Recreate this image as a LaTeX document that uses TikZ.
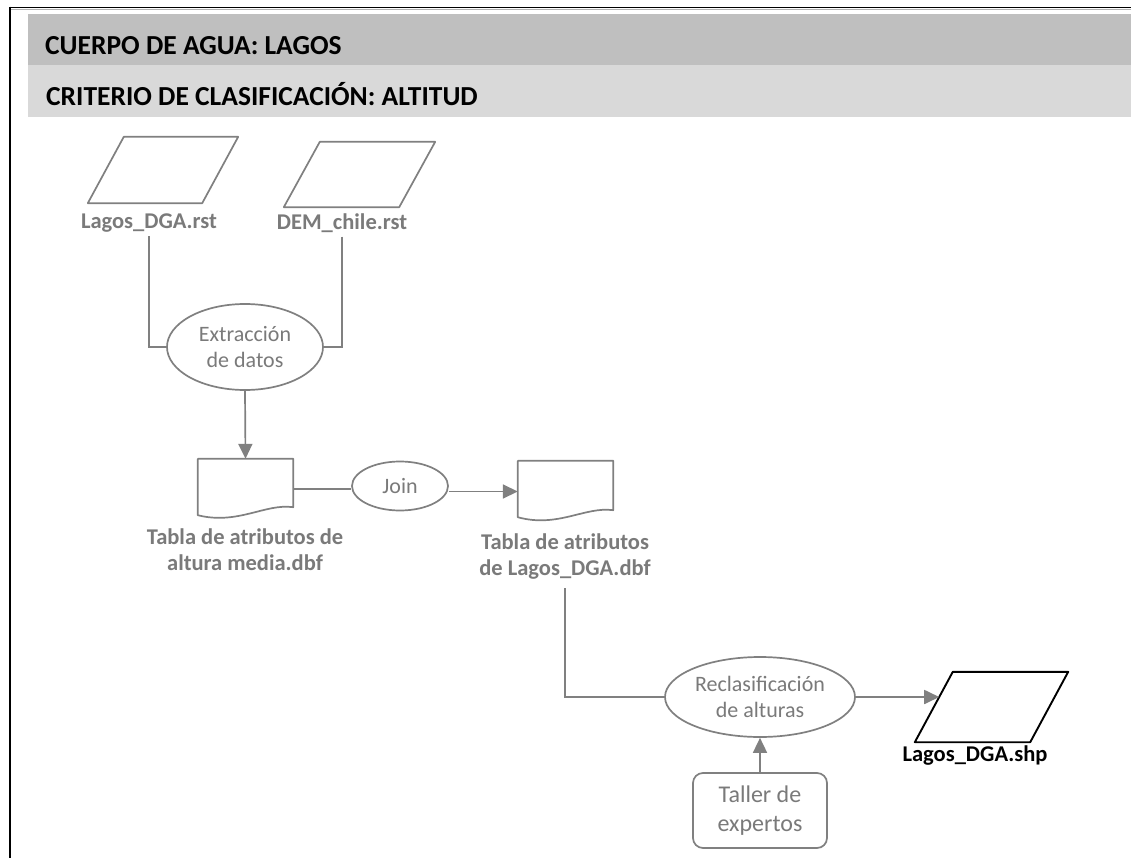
\documentclass[tikz,border=0pt]{standalone}
\usepackage{fontspec}
\setmainfont{Carlito}
\usetikzlibrary{shapes.geometric,arrows.meta,calc}
\definecolor{lg}{HTML}{808080}
\definecolor{bandA}{HTML}{BFBFBF}
\definecolor{bandB}{HTML}{D9D9D9}
\definecolor{txtg}{HTML}{7A7A7A}
\begin{document}
\begin{tikzpicture}[x=1pt,y=-1pt,
  conn/.style={draw=lg, line width=1.7pt},
  arr/.style={conn, -{Triangle[length=15pt,width=14pt]}},
  shapebox/.style={inner sep=0pt, draw=none},
  lbl/.style={font=\bfseries\fontsize{22.5}{26}\selectfont, text=txtg, align=center, inner sep=0pt},
  proc/.style={ellipse, draw=lg, line width=1.7pt, font=\fontsize{22}{25.5}\selectfont, text=txtg, align=center, inner sep=0pt},
  hdr/.style={font=\bfseries\fontsize{27.5}{33}\selectfont, anchor=base west, inner sep=0pt},
  shp/.style={draw=lg, line width=1.7pt, line join=round}
]
\useasboundingbox (0,0) rectangle (1131,858);
\fill[white] (0,0) rectangle (1131,858);

% frame
\draw[black, line width=1.6pt] (9.5,7.5) -- (1131,7.5);
\draw[lg!60, line width=0.8pt] (10,9.6) -- (1131,9.6);
\draw[black, line width=2pt] (9.5,6.7) -- (9.5,858);

% header bands
\fill[bandA] (28,14) rectangle (1131,65);
\fill[bandB] (28,65) rectangle (1131,117);
\node[hdr] (h1) at (45,55) {CUERPO DE AGUA: LAGOS};
\node[hdr] (h2) at (46,106) {CRITERIO DE CLASIFICACIÓN: ALTITUD};

% input parallelograms
\node[shapebox, minimum width=150pt, minimum height=66pt] (p1) at (163,170) {};
\draw[shp] (p1.south west) -- ([xshift=-36pt]p1.south east) -- (p1.north east) -- ([xshift=36pt]p1.north west) -- cycle;
\node[shapebox, minimum width=151pt, minimum height=65pt] (p2) at (359.5,174.5) {};
\draw[shp] (p2.south west) -- ([xshift=-36pt]p2.south east) -- (p2.north east) -- ([xshift=36pt]p2.north west) -- cycle;
\node[lbl] (l1) at (149,223) {Lagos\_DGA.rst};
\node[lbl] (l2) at (342,223) {DEM\_chile.rst};

% extraction
\node[proc, minimum width=156pt, minimum height=86pt] (e1) at (245,347) {Extracción\\de datos};
\draw[conn] ([yshift=-4pt]l1.south) |- (e1.west);
\draw[conn] ([yshift=-4pt]l2.south) |- (e1.east);

% document 1
\node[shapebox, minimum width=95pt, minimum height=60pt] (d1) at (245.5,489) {};
\draw[shp] (d1.north west) -- (d1.north east) -- ([yshift=12pt]d1.south east)
  .. controls ([xshift=-28pt,yshift=16pt]d1.south east) and ([xshift=40pt,yshift=-6pt]d1.south west) .. ([yshift=4pt]d1.south west) -- cycle;
\node[lbl] (l3) at (245,549.5) {Tabla de atributos de\\altura media.dbf};
\draw[arr] (e1.south) -- (d1.north);

% join
\node[proc, minimum width=96pt, minimum height=49pt] (j) at (400,486) {Join};
\draw[conn] (d1.east) -- (d1.east -| j.west);

% document 2
\node[shapebox, minimum width=95pt, minimum height=61pt] (d2) at (565.5,491.5) {};
\draw[shp] (d2.north west) -- (d2.north east) -- ([yshift=12pt]d2.south east)
  .. controls ([xshift=-28pt,yshift=16pt]d2.south east) and ([xshift=40pt,yshift=-6pt]d2.south west) .. ([yshift=5pt]d2.south west) -- cycle;
\node[lbl] (l4) at (565,557) {Tabla de atributos\\de Lagos\_DGA.dbf};
\draw[arr] (d2.west -| j.east) -- (d2.west);

% reclassification
\node[proc, minimum width=190pt, minimum height=80pt] (e2) at (760,697) {Reclasificación\\de alturas};
\draw[conn] ([yshift=-8pt]l4.south) |- (e2.west);

% experts
\node[draw=lg, line width=1.7pt, rounded corners=10pt, minimum width=134pt, minimum height=75pt,
      font=\fontsize{24}{29}\selectfont, text=txtg, align=center, inner sep=0pt] (t) at (760,810.5) {Taller de\\expertos};
\draw[arr] (t.north) -- (e2.south);

% output
\node[shapebox, minimum width=153pt, minimum height=70pt] (p3) at (991.5,707) {};
\draw[black, line width=1.9pt, line join=round] (p3.south west) -- ([xshift=-38pt]p3.south east) -- (p3.north east) -- ([xshift=38pt]p3.north west) -- cycle;
\coordinate (p3in) at ($(p3.south west)!0.643!([xshift=38pt]p3.north west)$);
\draw[arr] (e2.east) -- (e2.east -| p3in);
\node[lbl, text=black] (l5) at (975,756) {Lagos\_DGA.shp};
\end{tikzpicture}
\end{document}
